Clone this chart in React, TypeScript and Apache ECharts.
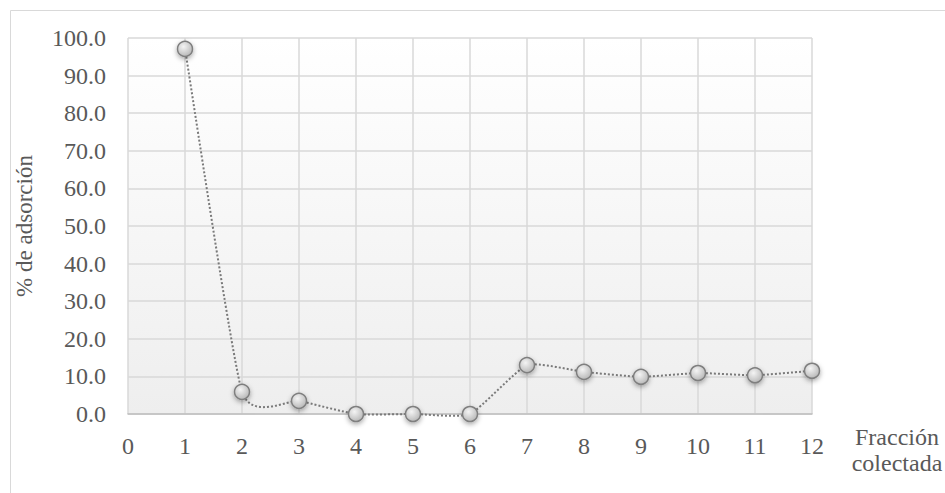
import React, { useEffect, useRef } from "react";
import * as echarts from "echarts";

// Fracciones colectadas y su porcentaje de adsorción
const fracciones = [1, 2, 3, 4, 5, 6, 7, 8, 9, 10, 11, 12];
const adsorcion = [97.1, 5.9, 3.5, 0.0, 0.0, 0.0, 13.0, 11.2, 9.9, 10.9, 10.3, 11.5];

const yTicks = { min: 0, max: 100, interval: 10 };
const xTicks = { min: 0, max: 12, interval: 1 };

const FONT = "'Liberation Serif', 'Times New Roman', serif";
const TEXT = "#595959";
// Catmull-Rom style tension for the smoothed connector
const TENSION = 1 / 12;

export default function App() {
  const ref = useRef<HTMLDivElement>(null);

  useEffect(() => {
    document.body.style.margin = "0";
    if (!ref.current) return;
    const chart = echarts.init(ref.current, null, { renderer: "svg" });
    const pts = fracciones.map((f, i) => [f, adsorcion[i]]);

    chart.setOption({
      animation: false,
      backgroundColor: "#ffffff",
      textStyle: { fontFamily: FONT },
      grid: {
        left: 128,
        top: 38,
        right: 133,
        bottom: 79,
        show: true,
        borderWidth: 0,
        backgroundColor: new echarts.graphic.LinearGradient(0, 0, 0, 1, [
          { offset: 0, color: "#ffffff" },
          { offset: 1, color: "#eeeeee" },
        ]),
      },
      graphic: [
        {
          type: "rect",
          shape: { x: 10.5, y: 10.5, width: 1000, height: 1000 },
          style: { fill: "none", stroke: "#d9d9d9", lineWidth: 1 },
          silent: true,
        },
        {
          type: "text",
          x: 897,
          y: 424,
          style: {
            text: "Fracción\ncolectada",
            fontFamily: FONT,
            fontSize: 24,
            fill: TEXT,
            align: "center",
            verticalAlign: "top",
            lineHeight: 26,
          },
        },
      ],
      xAxis: {
        type: "value",
        min: xTicks.min,
        max: xTicks.max,
        interval: xTicks.interval,
        axisLine: { show: true, lineStyle: { color: "#bfbfbf", width: 1.5 } },
        axisTick: { show: false },
        axisLabel: { color: TEXT, fontSize: 24, fontFamily: FONT, margin: 20 },
        splitLine: { show: true, lineStyle: { color: "#d9d9d9", width: 1.5 } },
      },
      yAxis: {
        type: "value",
        min: yTicks.min,
        max: yTicks.max,
        interval: yTicks.interval,
        name: "% de adsorción",
        nameLocation: "middle",
        nameGap: 92,
        nameTextStyle: { color: TEXT, fontSize: 23, fontFamily: FONT },
        axisLine: { show: false },
        axisTick: { show: false },
        axisLabel: {
          color: TEXT,
          fontSize: 24,
          fontFamily: FONT,
          margin: 22,
          formatter: (v: number) => v.toFixed(1),
        },
        splitLine: { show: true, lineStyle: { color: "#d9d9d9", width: 1.5 } },
      },
      series: [
        {
          // smoothed dotted connector, one bezier per segment
          type: "custom",
          data: pts.slice(0, -1),
          clip: false,
          z: 1,
          renderItem: (params: any, api: any) => {
            const i = params.dataIndex;
            const c = (k: number) => {
              const j = Math.max(0, Math.min(pts.length - 1, k));
              return api.coord(pts[j]);
            };
            const p0 = c(i - 1);
            const p1 = c(i);
            const p2 = c(i + 1);
            const p3 = c(i + 2);
            return {
              type: "bezierCurve",
              shape: {
                x1: p1[0],
                y1: p1[1],
                x2: p2[0],
                y2: p2[1],
                cpx1: p1[0] + (p2[0] - p0[0]) * TENSION,
                cpy1: p1[1] + (p2[1] - p0[1]) * TENSION,
                cpx2: p2[0] - (p3[0] - p1[0]) * TENSION,
                cpy2: p2[1] - (p3[1] - p1[1]) * TENSION,
              },
              style: {
                fill: "none",
                stroke: "#7a7a7a",
                lineWidth: 2,
                lineDash: [2, 2],
              },
            };
          },
        },
        {
          type: "line",
          data: pts,
          z: 3,
          symbol: "circle",
          symbolSize: 15,
          lineStyle: { opacity: 0 },
          itemStyle: {
            color: new echarts.graphic.RadialGradient(0.4, 0.35, 0.7, [
              { offset: 0, color: "#f4f4f4" },
              { offset: 1, color: "#b5b5b5" },
            ]),
            borderColor: "#7f7f7f",
            borderWidth: 1.5,
            shadowBlur: 5,
            shadowColor: "rgba(0,0,0,0.35)",
            shadowOffsetY: 2,
          },
          clip: false,
        },
      ],
    });

    return () => chart.dispose();
  }, []);

  return <div ref={ref} style={{ width: 945, height: 493 }} />;
}
